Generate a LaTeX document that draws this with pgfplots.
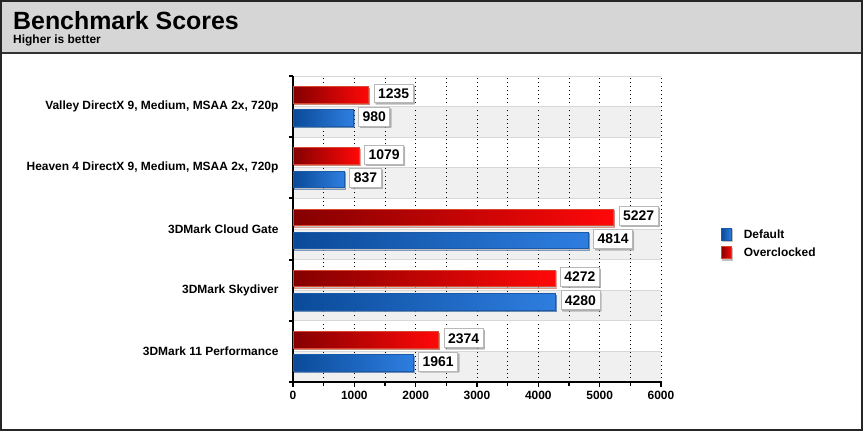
\documentclass[border=0pt]{standalone}
\usepackage{pgfplots}
\pgfplotsset{compat=1.18}
\usepackage{fontspec}
\setmainfont{Liberation Sans}
\usetikzlibrary{shadows}

\definecolor{hdr}{HTML}{D6D6D6}
\definecolor{band}{HTML}{F0F0F0}
\definecolor{gridl}{HTML}{D8D8D8}
\definecolor{reddark}{HTML}{850000}
\definecolor{redlight}{HTML}{FF0808}
\definecolor{redline}{HTML}{D84830}
\definecolor{bluedark}{HTML}{0A4A98}
\definecolor{bluelight}{HTML}{2E7EE0}
\definecolor{blueline}{HTML}{1A5AA8}

\pgfplotsset{
  barbase/.style={line width=1bp,
    drop shadow={shadow xshift=1bp, shadow yshift=-1.5bp,
      left color=black!22, right color=black!22}},
  bluebar/.style={barbase, bar shift=-0.19, draw=blueline,
    left color=bluedark, right color=bluelight, forget plot},
  redbar/.style={barbase, bar shift=0.19, draw=redline,
    left color=reddark, right color=redlight, forget plot},
}

\begin{document}
\begin{tikzpicture}
\useasboundingbox (0,0) rectangle (863bp,431bp);
% header band
\fill[hdr] (0,378bp) rectangle (863bp,431bp);
\draw[line width=1.5bp, black!80] (0,378bp) -- (863bp,378bp);
\node[anchor=base west, inner sep=0] at (13bp,401bp)
  {\fontsize{25}{30}\selectfont\bfseries Benchmark Scores};
\node[anchor=base west, inner sep=0] at (13bp,387bp)
  {\fontsize{12}{14}\selectfont\bfseries Higher is better};
% lower half of every row is shaded
\foreach \k in {0,...,4}
  \fill[band] (293bp,{49bp+61.2bp*\k}) rectangle (661bp,{49bp+61.2bp*\k+30.6bp});

\begin{axis}[
    at={(293bp,49bp)}, anchor=south west,
    scale only axis,
    width=368bp, height=306bp,
    xbar,
    xmin=0, xmax=6000,
    ymin=0, ymax=5,
    bar width=0.27,
    axis lines=left,
    axis line style={-, line width=2bp, black},
    xtick={0,1000,...,6000},
    minor x tick num=1,
    xmajorgrids, xminorgrids,
    major x grid style={black, line width=0.9bp, dash pattern=on 0.9bp off 3.2bp},
    minor x grid style={black, line width=0.9bp, dash pattern=on 0.9bp off 3.2bp},
    ytick={0.5,1.5,2.5,3.5,4.5},
    yticklabels={3DMark 11 Performance, 3DMark Skydiver, 3DMark Cloud Gate,
      {Heaven 4 DirectX 9, Medium, MSAA 2x, 720p},
      {Valley DirectX 9, Medium, MSAA 2x, 720p}},
    minor ytick={0,1,2,3,4,5},
    ymajorgrids, yminorgrids,
    major y grid style={gridl, line width=0.6bp},
    minor y grid style={gridl, line width=0.6bp},
    major tick length=5bp,
    minor tick length=4bp,
    tick align=outside,
    xtick style={black, line width=1.6bp},
    ytick style={black, line width=2bp},
    major y tick style={draw=none},
    tick label style={font=\fontsize{12}{14}\selectfont\bfseries},
    yticklabel style={xshift=-6bp},
    xticklabel style={yshift=-1bp},
    /pgf/number format/.cd, fixed, precision=0, 1000 sep={}, assume math mode=true,
    /pgfplots/.cd,
    nodes near coords,
    every node near coord/.append style={
      anchor=west, xshift=5bp, yshift=1.5bp,
      font=\fontsize{14}{16}\selectfont\bfseries,
      left color=white, right color=white, draw=black!28, line width=0.9bp,
      inner xsep=4bp, inner ysep=4.5bp,
      drop shadow={shadow xshift=1.5bp, shadow yshift=-1.5bp,
        left color=black!35, right color=black!35, draw=none}},
    legend style={at={(1.155,0.512)}, anchor=north west, draw=none, fill=none,
      font=\fontsize{12}{14}\selectfont\bfseries, row sep=4bp},
    legend cell align={left},
]
% Default
\addplot[bluebar] coordinates {(1961,0.5)};
\addplot[bluebar] coordinates {(4280,1.5)};
\addplot[bluebar] coordinates {(4814,2.5)};
\addplot[bluebar] coordinates {(837,3.5)};
\addplot[bluebar] coordinates {(980,4.5)};
% Overclocked
\addplot[redbar] coordinates {(2374,0.5)};
\addplot[redbar] coordinates {(4272,1.5)};
\addplot[redbar] coordinates {(5227,2.5)};
\addplot[redbar] coordinates {(1079,3.5)};
\addplot[redbar] coordinates {(1235,4.5)};

\addlegendimage{legend image code/.code={
  \fill[black!25] (1bp,-7bp) rectangle (11bp,5bp);
  \draw[blueline, line width=0.8bp, left color=bluedark, right color=bluelight]
    (0bp,-6bp) rectangle (10bp,6bp);
  \path (20bp,0bp);}}
\addlegendentry{Default}
\addlegendimage{legend image code/.code={
  \fill[black!25] (1bp,-7bp) rectangle (11bp,5bp);
  \draw[redline, line width=0.8bp, left color=reddark, right color=redlight]
    (0bp,-6bp) rectangle (10bp,6bp);
  \path (20bp,0bp);}}
\addlegendentry{Overclocked}
\end{axis}
\draw[line width=2bp, black!85] (1bp,1bp) rectangle (862bp,430bp);
\end{tikzpicture}
\end{document}
